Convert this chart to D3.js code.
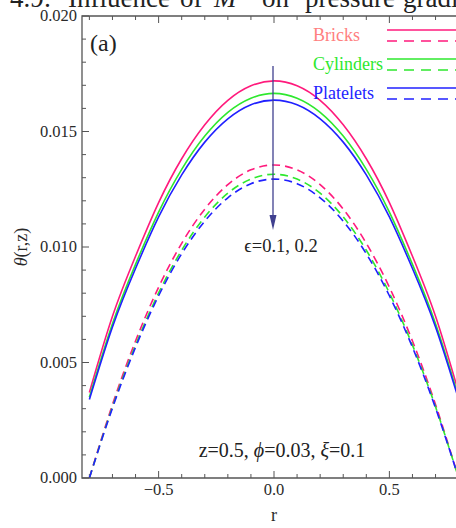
<!DOCTYPE html>
<html>
<head>
<meta charset="utf-8">
<script src="https://cdn.jsdelivr.net/npm/d3@7"></script>
<style>
  html, body { margin: 0; padding: 0; background: #fff; }
  svg { display: block; }
  text { font-family: "Liberation Serif", "DejaVu Serif", serif; }
</style>
</head>
<body>
<svg id="chart" width="456" height="528"></svg>
<script>
// Radial positions at which the temperature profiles are sampled
const rValues = [-0.8, -0.7, -0.6, -0.5, -0.4, -0.3, -0.2, -0.1, 0, 0.1, 0.2, 0.3, 0.4, 0.5, 0.6, 0.7, 0.8];

// epsilon = 0.1 (solid)
const bricksSolid    = [0.0037, 0.0070, 0.0096, 0.01192, 0.01382, 0.01529, 0.01635, 0.01698, 0.01719, 0.01698, 0.01635, 0.01529, 0.01382, 0.01192, 0.0096, 0.0070, 0.0037];
const cylindersSolid = [0.0035, 0.00668, 0.00925, 0.01151, 0.01336, 0.0148, 0.01583, 0.01644, 0.01665, 0.01644, 0.01583, 0.0148, 0.01336, 0.01151, 0.00925, 0.00668, 0.0035];
const plateletsSolid = [0.0034, 0.00654, 0.00907, 0.0113, 0.01312, 0.01454, 0.01555, 0.01616, 0.01636, 0.01616, 0.01555, 0.01454, 0.01312, 0.0113, 0.00907, 0.00654, 0.0034];

// epsilon = 0.2 (dashed)
const bricksDashed    = [0, 0.00318, 0.00593, 0.00826, 0.01016, 0.01164, 0.0127, 0.01334, 0.01355, 0.01334, 0.0127, 0.01164, 0.01016, 0.00826, 0.00593, 0.00318, 0];
const cylindersDashed = [0, 0.00308, 0.00575, 0.00801, 0.00986, 0.0113, 0.01233, 0.01294, 0.01315, 0.01294, 0.01233, 0.0113, 0.00986, 0.00801, 0.00575, 0.00308, 0];
const plateletsDashed = [0, 0.00303, 0.00566, 0.00789, 0.00971, 0.01112, 0.01213, 0.01274, 0.01294, 0.01274, 0.01213, 0.01112, 0.00971, 0.00789, 0.00566, 0.00303, 0];

const seriesNames = ["Bricks", "Cylinders", "Platelets"];
const xTickLabels = [-0.5, 0.0, 0.5];
const yTickLabels = [0.000, 0.005, 0.010, 0.015, 0.020];
const arrowSpan = [0.01784, 0.01074];   // theta range covered by the epsilon arrow at r = 0

const lineColors = ["#ff1a7c", "#2ee82e", "#2020ff"];
const labelColors = ["#ff8080", "#2ee82e", "#2424ff"];

const svg = d3.select("#chart");
svg.append("rect").attr("width", 456).attr("height", 528).attr("fill", "#fff");

const plotL = 82, plotR = 466, plotT = 16, plotB = 478;
const x = d3.scaleLinear().domain([-0.832, 0.832]).range([plotL, plotR]);
const y = d3.scaleLinear().domain([0, 0.020]).range([plotB, plotT]);

svg.append("defs").append("clipPath").attr("id", "plotClip")
  .append("rect").attr("x", plotL).attr("y", plotT).attr("width", plotR - plotL).attr("height", plotB - plotT);

// Figure caption running along the top edge (one text run, words placed individually)
const cap = svg.append("text").attr("y", 7).attr("font-size", 27).attr("fill", "#222");
[["4.9:", 10, "normal"], ["Influence", 68, "normal"], ["of", 180, "normal"], ["M", 214, "italic"],
 ["on", 262, "normal"], ["pressure", 305, "normal"], ["gradient", 403, "normal"]]
  .forEach(([w, px, st]) => cap.append("tspan").attr("x", px).attr("font-style", st).text(w));

// Frame ticks (inward, Mathematica style)
const axisColor = "#555";
const xMinor = d3.range(-8, 9).map(i => i / 10);
const yMinor = d3.range(0, 21).map(i => i / 1000);
const g = svg.append("g");
xMinor.forEach(v => {
  const major = Math.abs(Math.round(v * 10) % 5) === 0;
  const len = major ? 7 : 4;
  g.append("line").attr("x1", x(v)).attr("x2", x(v)).attr("y1", plotB).attr("y2", plotB - len)
    .attr("stroke", axisColor).attr("stroke-width", 1);
  g.append("line").attr("x1", x(v)).attr("x2", x(v)).attr("y1", plotT).attr("y2", plotT + len)
    .attr("stroke", axisColor).attr("stroke-width", 1);
});
yMinor.forEach((v, i) => {
  const len = i % 5 === 0 ? 7 : 4;
  g.append("line").attr("x1", plotL).attr("x2", plotL + len).attr("y1", y(v)).attr("y2", y(v))
    .attr("stroke", axisColor).attr("stroke-width", 1);
});

// Tick labels
const fmtY = d3.format(".3f");
yTickLabels.forEach(v => {
  g.append("text").attr("x", plotL - 5).attr("y", y(v)).attr("dy", "0.33em")
    .attr("text-anchor", "end").attr("font-size", 16.5).attr("fill", "#2a2a2a").text(fmtY(v));
});
const fmtX = v => (v < 0 ? "\u2212" : "") + Math.abs(v).toFixed(1);
xTickLabels.forEach(v => {
  g.append("text").attr("x", x(v)).attr("y", 495).attr("text-anchor", "middle")
    .attr("font-size", 16.5).attr("fill", "#2a2a2a").text(fmtX(v));
});

// Axis titles
g.append("text").attr("x", x(0)).attr("y", 521).attr("text-anchor", "middle")
  .attr("font-size", 18).attr("fill", "#2a2a2a").text("r");
const yl = g.append("text").attr("transform", "translate(27,247) rotate(-90)")
  .attr("text-anchor", "middle").attr("font-size", 18).attr("fill", "#2a2a2a");
yl.append("tspan").attr("font-style", "italic").text("\u03b8");
yl.append("tspan").text("(r,z)");

// Curves
const plot = svg.append("g").attr("clip-path", "url(#plotClip)");
const line = d3.line().x(d => x(d[0])).y(d => y(d[1])).curve(d3.curveNatural);
const dashedSets = [bricksDashed, cylindersDashed, plateletsDashed];
const solidSets = [bricksSolid, cylindersSolid, plateletsSolid];
dashedSets.forEach((vals, i) => {
  plot.append("path").datum(rValues.map((r, k) => [r, vals[k]])).attr("d", line)
    .attr("fill", "none").attr("stroke", lineColors[i]).attr("stroke-width", 1.6)
    .attr("stroke-dasharray", "8,5");
});
solidSets.forEach((vals, i) => {
  plot.append("path").datum(rValues.map((r, k) => [r, vals[k]])).attr("d", line)
    .attr("fill", "none").attr("stroke", lineColors[i]).attr("stroke-width", 1.6);
});

// Frame
svg.append("path")
  .attr("d", `M${plotR},${plotT}H${plotL}V${plotB}H${plotR}`)
  .attr("fill", "none").attr("stroke", axisColor).attr("stroke-width", 1.3);

// Epsilon arrow
const arrowColor = "#40408f";
const ax = x(0) - 1;
svg.append("line").attr("x1", ax).attr("x2", ax).attr("y1", y(arrowSpan[0])).attr("y2", y(arrowSpan[1]) - 10)
  .attr("stroke", arrowColor).attr("stroke-width", 1.3);
svg.append("path")
  .attr("d", `M${ax},${y(arrowSpan[1])}L${ax - 3.5},${y(arrowSpan[1]) - 15}L${ax + 3.5},${y(arrowSpan[1]) - 15}Z`)
  .attr("fill", arrowColor);
svg.append("text").attr("x", 281).attr("y", 252).attr("text-anchor", "middle")
  .attr("font-size", 18.5).attr("fill", "#222").text("\u03f5=0.1, 0.2");

// Panel tag and parameters
svg.append("text").attr("x", 90).attr("y", 51).attr("font-size", 24).attr("fill", "#222").text("(a)");
const par = svg.append("text").attr("x", 282).attr("y", 457).attr("text-anchor", "middle")
  .attr("font-size", 20).attr("fill", "#222");
par.append("tspan").text("z=0.5, ");
par.append("tspan").attr("font-style", "italic").text("\u03d5");
par.append("tspan").text("=0.03, ");
par.append("tspan").attr("font-style", "italic").text("\u03be");
par.append("tspan").text("=0.1");

// Legend
const legendRows = [30, 59, 88];
seriesNames.forEach((name, i) => {
  const ry = legendRows[i];
  svg.append("text").attr("x", 313).attr("y", ry + 11).attr("font-size", 18)
    .attr("fill", labelColors[i]).text(name);
  svg.append("line").attr("x1", 387).attr("x2", 470).attr("y1", ry).attr("y2", ry)
    .attr("stroke", lineColors[i]).attr("stroke-width", 1.6);
  svg.append("line").attr("x1", 387).attr("x2", 470).attr("y1", ry + 11).attr("y2", ry + 11)
    .attr("stroke", lineColors[i]).attr("stroke-width", 1.6).attr("stroke-dasharray", "10,7");
});
</script>
</body>
</html>
